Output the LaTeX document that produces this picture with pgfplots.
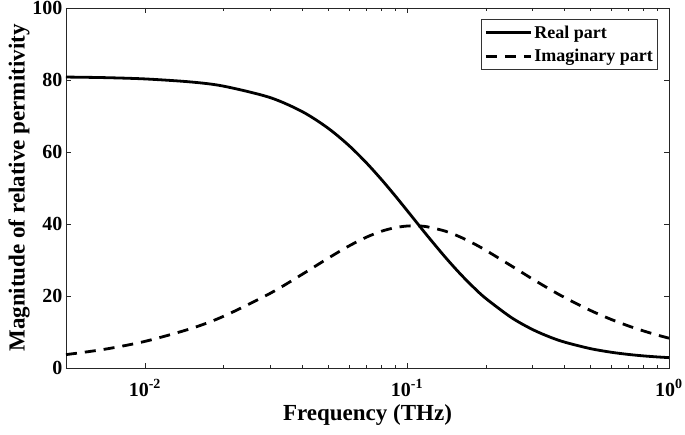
\documentclass[border=0pt]{standalone}
\usepackage{fontspec}
\setmainfont{Liberation Serif}
\usepackage{pgfplots}
\pgfplotsset{compat=1.18}

% Debye-type relaxation: real and imaginary relative permittivity
\pgfplotstableread{
f      re     im
0.005  80.82  3.72
0.007  80.66  5.19
0.01   80.30  7.39
0.015  79.45  10.96
0.02   78.28  14.39
0.03   75.14  20.70
0.04   71.15  26.10
0.05   66.62  30.48
0.06   61.83  33.87
0.07   57.01  36.33
0.08   52.33  37.99
0.09   47.91  38.98
0.10   43.80  39.43
0.11   40.04  39.47
0.12   36.62  39.20
0.14   30.79  38.02
0.16   26.10  36.37
0.18   22.34  34.54
0.20   19.32  32.69
0.25   14.04  28.39
0.30   10.77  24.81
0.35   8.64   21.92
0.40   7.18   19.56
0.50   5.40   16.03
0.60   4.39   13.53
0.70   3.77   11.69
0.80   3.36   10.29
0.90   3.08   9.18
1.00   2.88   8.28
}\perm

\begin{document}
\begin{tikzpicture}
\begin{semilogxaxis}[
  scale only axis,
  width=603pt, height=360pt,
  xmin=0.005, xmax=1,
  ymin=0, ymax=100,
  xtick={0.01,0.1,1},
  xticklabels={{10\textsuperscript{-2}},{10\textsuperscript{-1}},{10\textsuperscript{0}}},
  ytick={0,20,40,60,80,100},
  /pgf/number format/assume math mode=true,
  tick label style={font=\bfseries\fontsize{20}{23}\selectfont},
  xticklabel style={yshift=-8pt},
  label style={font=\bfseries\fontsize{23}{26}\selectfont},
  xlabel={Frequency (THz)},
  ylabel={Magnitude of relative permitivity},
  xlabel style={yshift=-1pt},
  ylabel style={yshift=-4pt},
  axis line style={line width=0.8pt, black!85},
  major tick length=5pt,
  minor tick length=3pt,
  every tick/.style={line width=0.6pt, black!85},
  legend style={
    at={(rel axis cs:0.982,0.969)}, anchor=north east,
    font=\bfseries\fontsize{18}{21}\selectfont,
    draw=black!80, line width=0.7pt,
    inner xsep=3pt, inner ysep=4pt, row sep=6pt,
  },
  legend cell align=left,
  legend image code/.code={\draw[#1] (0pt,0pt) -- (45pt,0pt);},
]
\addplot[black, line width=2.8pt, smooth] table[x=f, y=re] {\perm};
\addlegendentry{Real part}
\addplot[black, line width=2.8pt, smooth, dash pattern=on 11pt off 8pt] table[x=f, y=im] {\perm};
\addlegendentry{Imaginary part}
\end{semilogxaxis}
\pgfresetboundingbox
\path[use as bounding box] (-66pt,-66pt) rectangle (619pt,368pt);
\end{tikzpicture}
\end{document}
